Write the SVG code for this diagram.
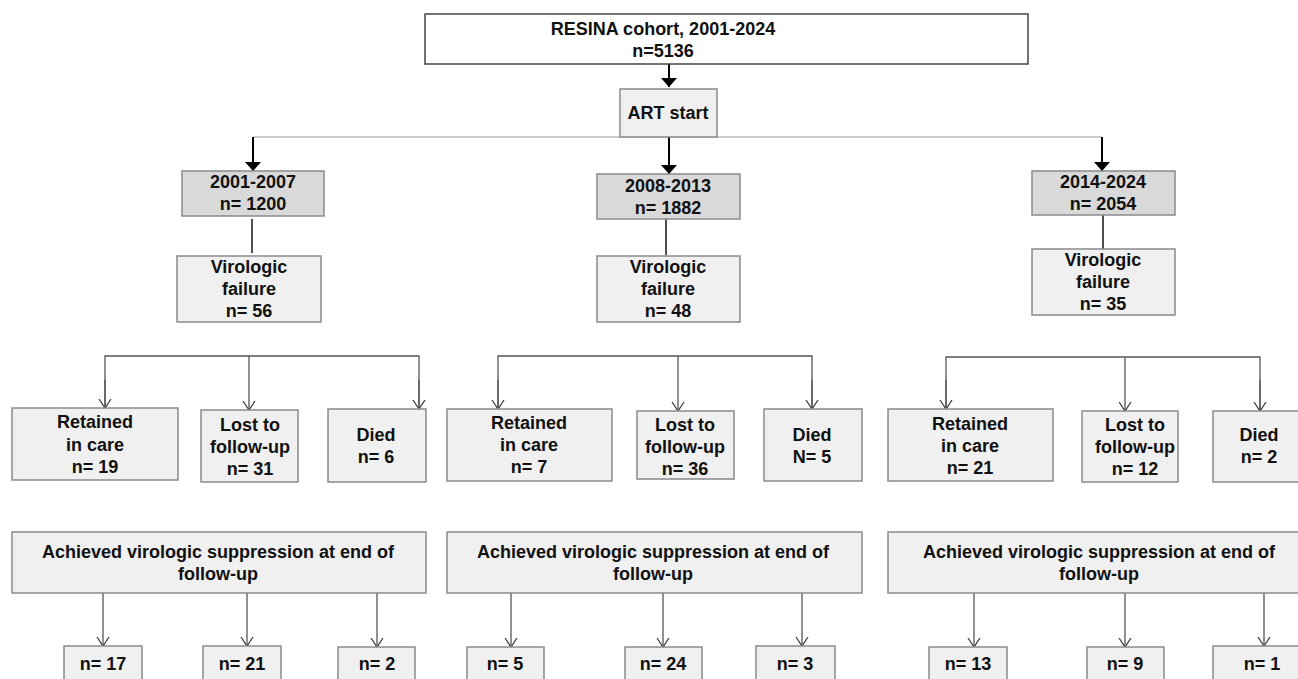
<svg xmlns="http://www.w3.org/2000/svg" width="1298" height="679" viewBox="0 0 1298 679">
<style>
text{font-family:"Liberation Sans",Arial,sans-serif;font-weight:bold;font-size:18px;fill:#111;text-anchor:middle}
.box{fill:#f0f0f0;stroke:#8a8a8a;stroke-width:1.5}
.dark{fill:#d9d9d9;stroke:#8a8a8a;stroke-width:1.5}
.top{fill:#fff;stroke:#444;stroke-width:1.5}
.main{stroke:#000;stroke-width:2;fill:none}
.stem{stroke:#222;stroke-width:1.6;fill:none}
.thin{stroke:#555;stroke-width:1.3;fill:none}
.hl{stroke:#999;stroke-width:1.2;fill:none}
</style>
<defs>
<marker id="fa" markerUnits="userSpaceOnUse" markerWidth="10" markerHeight="16" refX="9" refY="8" orient="auto"><path d="M0,0 L9,8 L0,16 z" fill="#000"/></marker>
<marker id="oa" markerUnits="userSpaceOnUse" markerWidth="12" markerHeight="14" refX="9" refY="6.5" orient="auto"><path d="M0,0.5 L9,6.5 L0,12.5" fill="none" stroke="#444" stroke-width="1.3"/></marker>
</defs>
<rect width="1298" height="679" fill="#fff"/>
<g id="connectors">
<line class="main" x1="669" y1="64" x2="669" y2="87" marker-end="url(#fa)"/>
<line class="hl" x1="253" y1="137" x2="1102" y2="137"/>
<line class="main" x1="253" y1="137" x2="253" y2="171" marker-end="url(#fa)"/>
<line class="main" x1="669" y1="137" x2="669" y2="174" marker-end="url(#fa)"/>
<line class="main" x1="1102" y1="137" x2="1102" y2="171" marker-end="url(#fa)"/>
<line class="stem" x1="252" y1="219" x2="252" y2="253"/>
<line class="stem" x1="666" y1="219" x2="666" y2="255"/>
<line class="stem" x1="1103" y1="215" x2="1103" y2="249"/>
<path class="thin" d="M105,408 V356 H419 V408"/>
<line class="thin" x1="249" y1="356" x2="249" y2="410" marker-end="url(#oa)"/>
<line class="thin" x1="105" y1="380" x2="105" y2="408" marker-end="url(#oa)"/>
<line class="thin" x1="419" y1="380" x2="419" y2="409" marker-end="url(#oa)"/>
<path class="thin" d="M498,409 V356 H812 V409"/>
<line class="thin" x1="678" y1="356" x2="678" y2="411" marker-end="url(#oa)"/>
<line class="thin" x1="498" y1="380" x2="498" y2="409" marker-end="url(#oa)"/>
<line class="thin" x1="812" y1="380" x2="812" y2="409" marker-end="url(#oa)"/>
<path class="thin" d="M946,409 V357 H1260 V411"/>
<line class="thin" x1="1125" y1="357" x2="1125" y2="411" marker-end="url(#oa)"/>
<line class="thin" x1="946" y1="380" x2="946" y2="409" marker-end="url(#oa)"/>
<line class="thin" x1="1260" y1="380" x2="1260" y2="411" marker-end="url(#oa)"/>
<line class="thin" x1="103" y1="593" x2="103" y2="646" marker-end="url(#oa)"/>
<line class="thin" x1="247" y1="593" x2="247" y2="646" marker-end="url(#oa)"/>
<line class="thin" x1="377" y1="593" x2="377" y2="647" marker-end="url(#oa)"/>
<line class="thin" x1="511" y1="593" x2="511" y2="647" marker-end="url(#oa)"/>
<line class="thin" x1="663" y1="593" x2="663" y2="647" marker-end="url(#oa)"/>
<line class="thin" x1="802" y1="593" x2="802" y2="646" marker-end="url(#oa)"/>
<line class="thin" x1="974" y1="593" x2="974" y2="647" marker-end="url(#oa)"/>
<line class="thin" x1="1125" y1="593" x2="1125" y2="647" marker-end="url(#oa)"/>
<line class="thin" x1="1264" y1="593" x2="1264" y2="646" marker-end="url(#oa)"/>
</g>
<g id="cohort"><rect class="top" x="425" y="14" width="603" height="50"/><text x="663" y="35">RESINA cohort, 2001-2024</text><text x="663" y="57">n=5136</text></g>
<g id="art"><rect class="box" x="620" y="89" width="97" height="48"/><text x="668" y="119">ART start</text></g>
<g id="p1"><rect class="dark" x="182" y="171" width="142" height="45"/><text x="253" y="188">2001-2007</text><text x="253" y="210">n= 1200</text></g>
<g id="p2"><rect class="dark" x="597" y="174" width="143" height="45"/><text x="668" y="192">2008-2013</text><text x="668" y="214">n= 1882</text></g>
<g id="p3"><rect class="dark" x="1032" y="171" width="143" height="44"/><text x="1103" y="188">2014-2024</text><text x="1103" y="210">n= 2054</text></g>
<g id="vf1"><rect class="box" x="177" y="256" width="144" height="66"/><text x="249" y="273">Virologic</text><text x="249" y="295">failure</text><text x="249" y="317">n= 56</text></g>
<g id="vf2"><rect class="box" x="597" y="256" width="143" height="66"/><text x="668" y="273">Virologic</text><text x="668" y="295">failure</text><text x="668" y="317">n= 48</text></g>
<g id="vf3"><rect class="box" x="1032" y="249" width="143" height="66"/><text x="1103" y="266">Virologic</text><text x="1103" y="288">failure</text><text x="1103" y="310">n= 35</text></g>
<g id="r1"><rect class="box" x="12" y="408" width="166" height="72"/><text x="95" y="428">Retained</text><text x="95" y="451">in care</text><text x="95" y="473">n= 19</text></g>
<g id="l1"><rect class="box" x="201" y="410" width="97" height="72"/><text x="250" y="431">Lost to</text><text x="250" y="453">follow-up</text><text x="250" y="475">n= 31</text></g>
<g id="d1"><rect class="box" x="328" y="409" width="98" height="73"/><text x="376" y="441">Died</text><text x="376" y="463">n= 6</text></g>
<g id="r2"><rect class="box" x="447" y="409" width="165" height="72"/><text x="529" y="429">Retained</text><text x="529" y="451">in care</text><text x="529" y="473">n= 7</text></g>
<g id="l2"><rect class="box" x="637" y="411" width="97" height="68"/><text x="685" y="431">Lost to</text><text x="685" y="453">follow-up</text><text x="685" y="475">n= 36</text></g>
<g id="d2"><rect class="box" x="764" y="409" width="98" height="72"/><text x="812" y="441">Died</text><text x="812" y="463">N= 5</text></g>
<g id="r3"><rect class="box" x="888" y="409" width="165" height="72"/><text x="970" y="430">Retained</text><text x="970" y="452">in care</text><text x="970" y="474">n= 21</text></g>
<g id="l3"><rect class="box" x="1082" y="411" width="96" height="71"/><text x="1135" y="431">Lost to</text><text x="1135" y="453">follow-up</text><text x="1135" y="475">n= 12</text></g>
<g id="d3"><rect class="box" x="1213" y="411" width="95" height="71"/><text x="1259" y="441">Died</text><text x="1259" y="463">n= 2</text></g>
<g id="s1"><rect class="box" x="12" y="532" width="414" height="61"/><text x="218" y="558">Achieved virologic suppression at end of</text><text x="218" y="580">follow-up</text></g>
<g id="s2"><rect class="box" x="447" y="532" width="415" height="61"/><text x="653" y="558">Achieved virologic suppression at end of</text><text x="653" y="580">follow-up</text></g>
<g id="s3"><rect class="box" x="888" y="532" width="420" height="61"/><text x="1099" y="558">Achieved virologic suppression at end of</text><text x="1099" y="580">follow-up</text></g>
<g id="o1"><rect class="box" x="64" y="646" width="78" height="40"/><text x="103" y="670">n= 17</text></g>
<g id="o2"><rect class="box" x="203" y="646" width="78" height="40"/><text x="242" y="670">n= 21</text></g>
<g id="o3"><rect class="box" x="338" y="647" width="77" height="40"/><text x="377" y="670">n= 2</text></g>
<g id="o4"><rect class="box" x="467" y="647" width="77" height="40"/><text x="505" y="670">n= 5</text></g>
<g id="o5"><rect class="box" x="625" y="647" width="77" height="40"/><text x="663" y="670">n= 24</text></g>
<g id="o6"><rect class="box" x="756" y="646" width="79" height="40"/><text x="795" y="670">n= 3</text></g>
<g id="o7"><rect class="box" x="929" y="647" width="78" height="40"/><text x="968" y="670">n= 13</text></g>
<g id="o8"><rect class="box" x="1087" y="647" width="77" height="40"/><text x="1125" y="670">n= 9</text></g>
<g id="o9"><rect class="box" x="1213" y="646" width="95" height="40"/><text x="1262" y="670">n= 1</text></g>
</svg>
